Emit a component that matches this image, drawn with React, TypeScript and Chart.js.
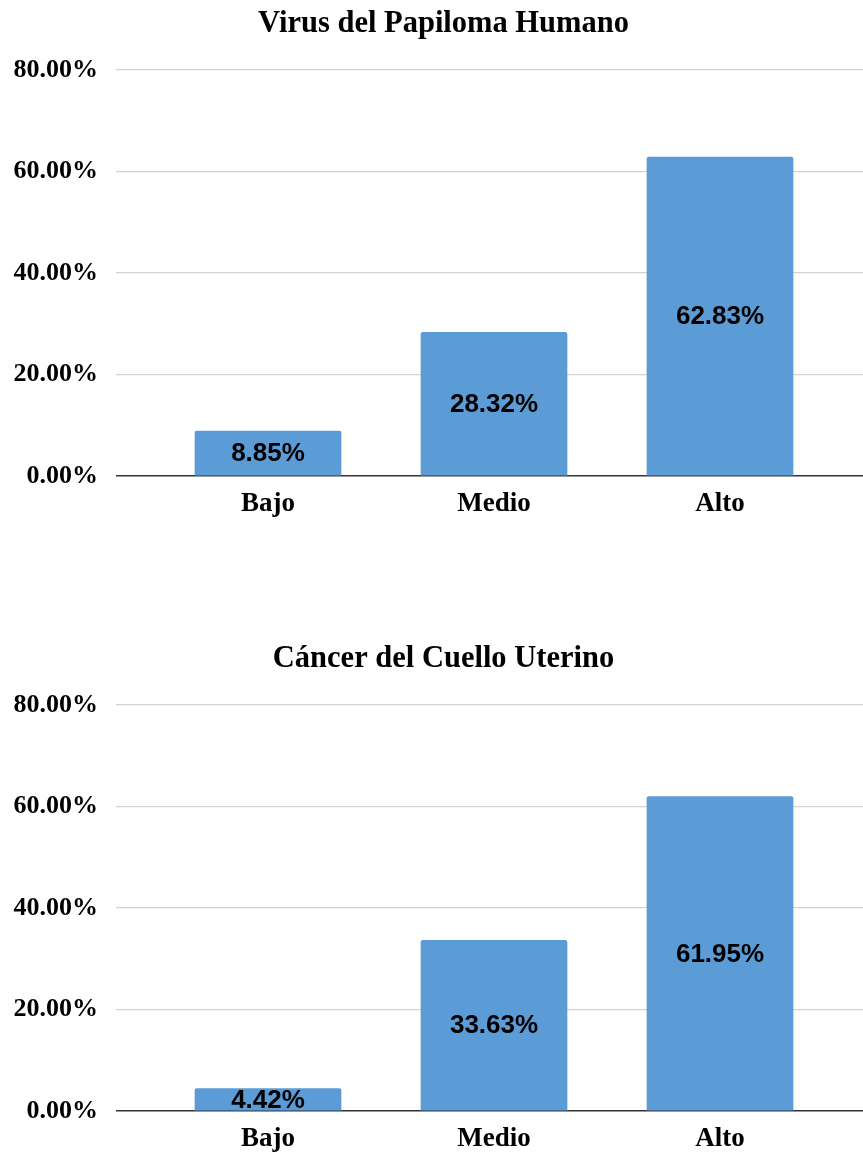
import React, { useEffect, useRef } from "react";
import { Chart, registerables } from "chart.js";

Chart.register(...registerables);

const categories = ["Bajo", "Medio", "Alto"];
const vphValues = [8.85, 28.32, 62.83];
const cancerValues = [4.42, 33.63, 61.95];
const titles = ["Virus del Papiloma Humano", "Cáncer del Cuello Uterino"];
const yTicks = [0, 20, 40, 60, 80];

const SERIF = "'Liberation Serif', 'Times New Roman', serif";
const SANS = "'Liberation Sans', Arial, sans-serif";
const BAR_COLOR = "#5b9bd6";
const CANVAS_W = 887;

const valueLabels = {
  id: "valueLabels",
  afterDatasetsDraw(chart: any) {
    const ctx = chart.ctx;
    const meta = chart.getDatasetMeta(0);
    const data = chart.data.datasets[0].data;
    ctx.save();
    ctx.font = `bold 26px ${SANS}`;
    ctx.fillStyle = "#000";
    ctx.textAlign = "center";
    ctx.textBaseline = "middle";
    meta.data.forEach((bar: any, i: number) => {
      const v = data[i].y as number;
      ctx.fillText(v.toFixed(2) + "%", bar.x, (bar.y + bar.base) / 2 + 1);
    });
    ctx.restore();
  },
};

function BarChart({ title, values, top, height }: { title: string; values: number[]; top: number; height: number }) {
  const ref = useRef<HTMLCanvasElement>(null);
  useEffect(() => {
    if (!ref.current) return;
    const chart = new Chart(ref.current, {
      type: "bar",
      data: {
        datasets: [
          {
            data: values.map((v, i) => ({ x: i, y: v })),
            backgroundColor: BAR_COLOR,
            barThickness: 146,
            borderRadius: 2,
          },
        ],
      },
      options: {
        animation: false,
        responsive: false,
        maintainAspectRatio: false,
        layout: { padding: { left: 0, right: 0, top: 0, bottom: 0 } },
        plugins: {
          legend: { display: false },
          tooltip: { enabled: false },
          title: {
            display: true,
            text: title,
            color: "#000",
            font: { family: SERIF, size: 30.5, weight: "bold", lineHeight: 1.2 },
            padding: { top: 6, bottom: 27.4 },
          },
        },
        scales: {
          x: {
            type: "linear",
            offset: false,
            min: -0.6726,
            max: 2.7389,
            grid: { display: false, drawTicks: false, offset: false },
            border: { display: false },
            afterBuildTicks: (scale: any) => {
              scale.ticks = categories.map((_, i) => ({ value: i }));
            },
            ticks: {
              autoSkip: false,
              maxRotation: 0,
              padding: 12,
              color: "#000",
              font: { family: SERIF, size: 27, weight: "bold" },
              callback: (v: any) => categories[v as number] ?? "",
            },
            afterFit: (scale: any) => {
              scale.height = height - 476;
            },
          },
          y: {
            min: 0,
            max: 80,
            afterBuildTicks: (scale: any) => {
              scale.ticks = yTicks.map((v) => ({ value: v }));
            },
            grid: {
              drawTicks: false,
              color: (c: any) => (c.tick && c.tick.value === 0 ? "#333" : "#d3d3d3"),
              lineWidth: (c: any) => (c.tick && c.tick.value === 0 ? 1.5 : 1.2),
            },
            border: { display: false },
            ticks: {
              padding: 18,
              color: "#000",
              font: { family: SERIF, size: 26, weight: "bold" },
              callback: (v: any) => Number(v).toFixed(2) + "%",
            },
            afterFit: (scale: any) => {
              scale.width = 116;
            },
          },
        },
      },
      plugins: [valueLabels],
    } as any);
    return () => chart.destroy();
  }, []);
  return (
    <div style={{ position: "absolute", left: 0, top, width: 863, height, overflow: "hidden" }}>
      <canvas ref={ref} width={CANVAS_W} height={height} style={{ width: CANVAS_W, height, display: "block" }} />
    </div>
  );
}

export default function App() {
  return (
    <div style={{ position: "absolute", left: 0, top: 0, width: 863, height: 1156, background: "#fff", overflow: "hidden" }}>
      <BarChart title={titles[0]} values={vphValues} top={0} height={521} />
      <BarChart title={titles[1]} values={cancerValues} top={635} height={521} />
    </div>
  );
}
